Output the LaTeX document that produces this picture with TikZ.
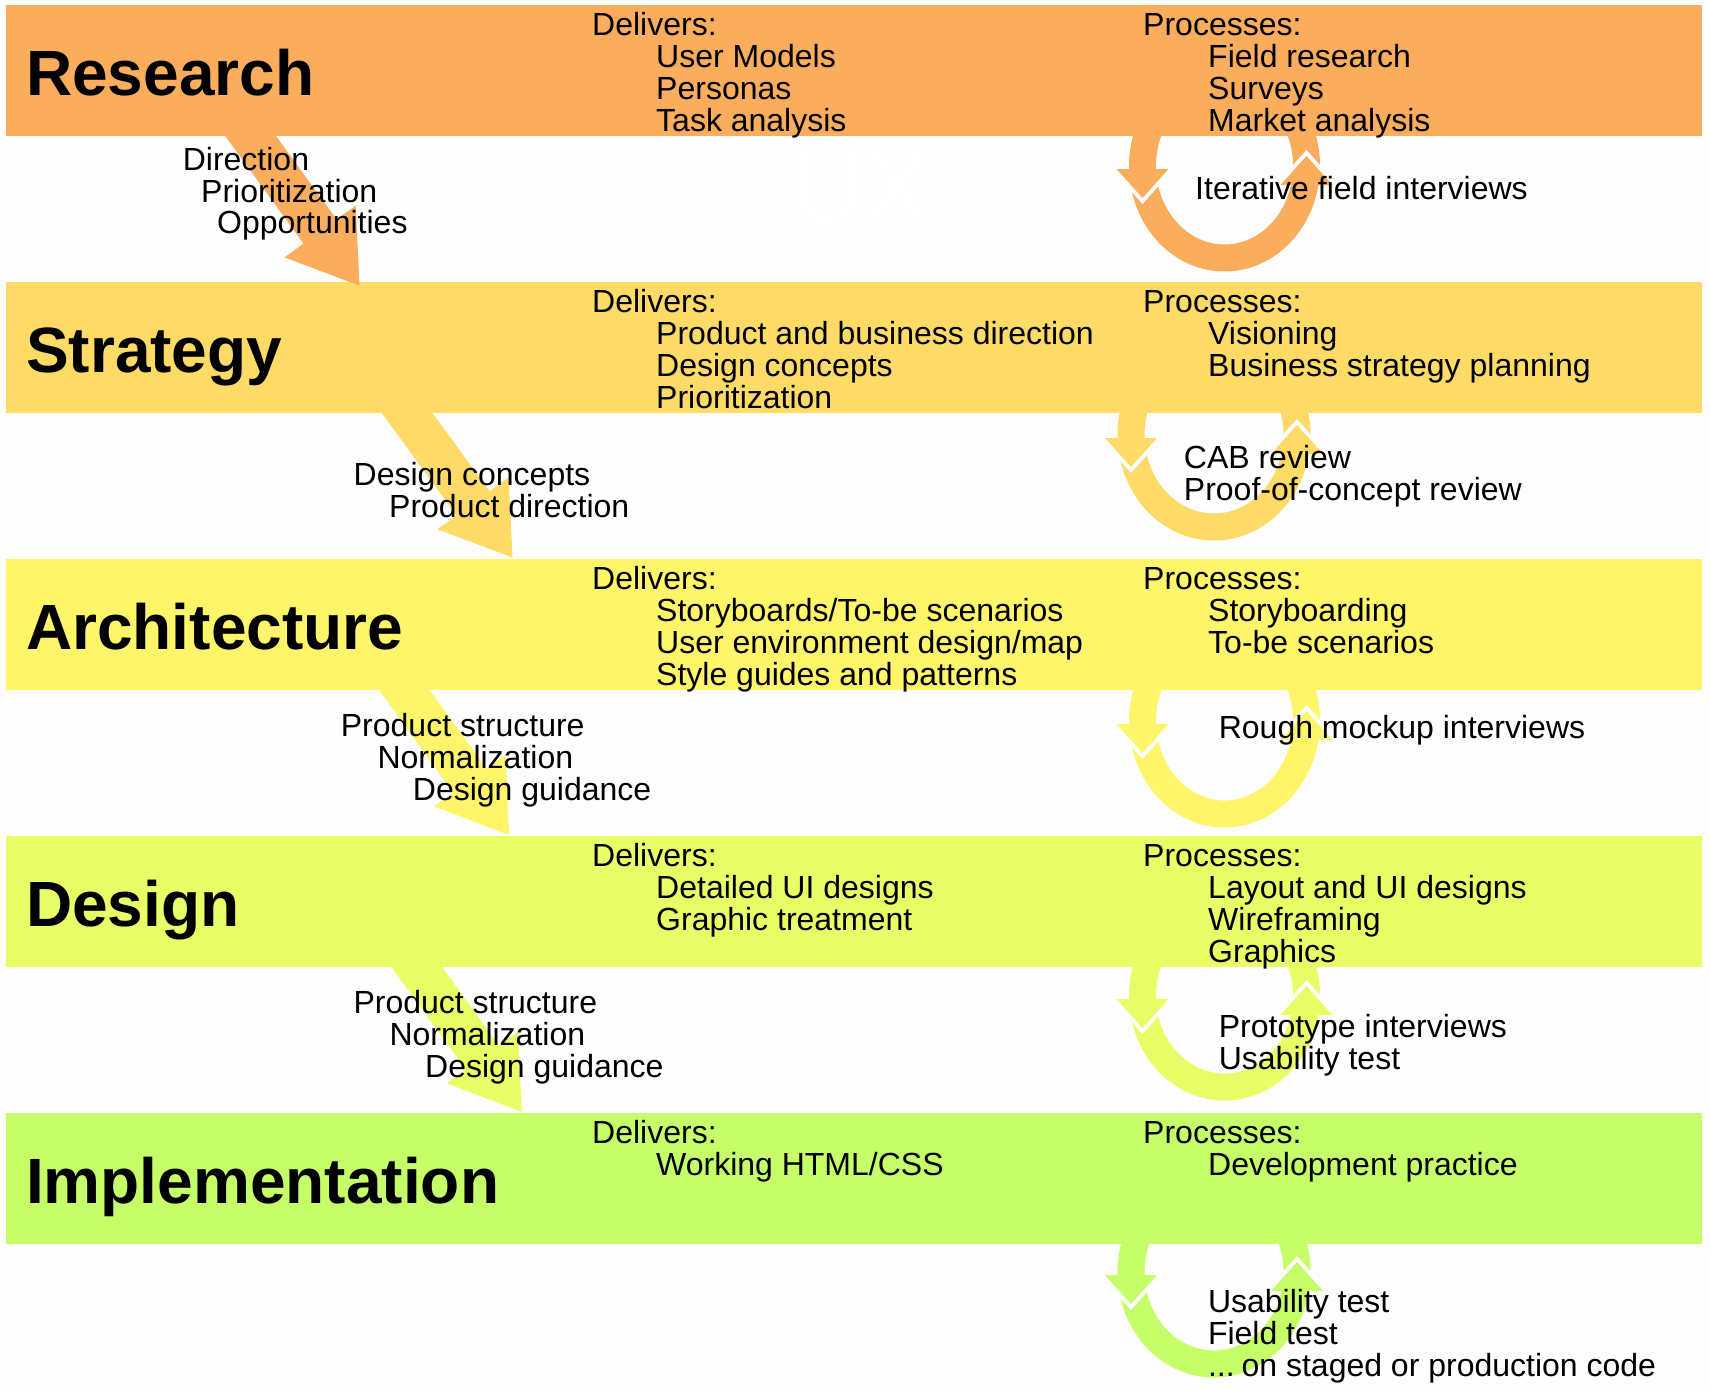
\documentclass[tikz,border=0pt]{standalone}
\usepackage{fontspec}
\setmainfont{Liberation Sans}
\usetikzlibrary{calc}

\definecolor{pagebg}{RGB}{254,254,254}
\definecolor{rescol}{RGB}{251,173,94}
\definecolor{strcol}{RGB}{254,218,102}
\definecolor{arccol}{RGB}{255,245,106}
\definecolor{descol}{RGB}{233,254,102}
\definecolor{impcol}{RGB}{197,254,104}

\newcommand\txtsize{\fontsize{32}{32}\selectfont}

% lines of text, one node per line: name prefix, x, first baseline, list
\newcommand\textlines[4]{%
  \foreach \lineitem [count=\k] in {#4}{%
    \node[txt] (#1-\k) at (#2,{#3+32*(\k-1)}) {\lineitem};
  }%
}

% broad arrow between two stages: uses coordinates (#1-s) and (#1-t)
\newcommand\flowarrow[2]{%
  \coordinate (#1-b) at ($(#1-t)!67pt!(#1-s)$);
  \fill[#2] ($(#1-s)!20.5pt!90:(#1-t)$) -- ($(#1-b)!20.5pt!90:(#1-t)$)
    -- ($(#1-b)!44pt!90:(#1-t)$) -- (#1-t) -- ($(#1-b)!44pt!-90:(#1-t)$)
    -- ($(#1-b)!20.5pt!-90:(#1-t)$) -- ($(#1-s)!20.5pt!-90:(#1-t)$) -- cycle;
}

% iteration ring under a stage: name, cx, cy, rx, ry, colour
\newcommand\iterloop[6]{%
  \coordinate (#1) at (#2,#3);
  \draw[#6, line width=27pt] ({#2+#4*cos(240)},{#3+#5*sin(240)})
    arc[start angle=240, end angle=-60, x radius=#4, y radius=#5];
  % head pointing down on the left side
  \coordinate (#1-lt) at ({#2-#4},{#3+32});
  \coordinate (#1-la) at ({#2-#4-26},{#3+3});
  \coordinate (#1-lb) at ({#2-#4+26},{#3+3});
  \draw[white, line width=8pt] (#1-la) -- (#1-lt) -- (#1-lb);
  \fill[#6] (#1-la) -- (#1-lt) -- (#1-lb) -- cycle;
  % head pointing up on the right side
  \coordinate (#1-rt) at ({#2+#4},{#3-10});
  \coordinate (#1-ra) at ({#2+#4-26},{#3+19});
  \coordinate (#1-rb) at ({#2+#4+26},{#3+19});
  \draw[white, line width=8pt] (#1-ra) -- (#1-rt) -- (#1-rb);
  \fill[#6] (#1-ra) -- (#1-rt) -- (#1-rb) -- cycle;
}

\begin{document}
\begin{tikzpicture}[x=1pt,y=-1pt,
  band/.style={fill=#1, draw=none, minimum width=1696pt, minimum height=131pt,
    anchor=north west, inner sep=0pt, outer sep=0pt},
  title/.style={anchor=base west, inner sep=0pt,
    font=\bfseries\fontsize{64}{64}\selectfont},
  txt/.style={anchor=base west, inner sep=0pt, font=\txtsize},
]
\fill[pagebg] (0,0) rectangle (1710,1390);
\useasboundingbox (0,0) rectangle (1710,1390);

% stage bands
\node[band=rescol] (research) at (6,5) {};
\node[band=strcol] (strategy) at (6,282) {};
\node[band=arccol] (architecture) at (6,559) {};
\node[band=descol] (design) at (6,836) {};
\node[band=impcol] (implementation) at (6,1113) {};

% hand-over arrows
\coordinate (a1-s) at (228.8,106);  \coordinate (a1-t) at (359.5,285.7);
\coordinate (a2-s) at (385.3,383);  \coordinate (a2-t) at (512.5,557.5);
\coordinate (a3-s) at (382.8,660);  \coordinate (a3-t) at (509,835);
\coordinate (a4-s) at (395,937);    \coordinate (a4-t) at (521.7,1111.7);
\flowarrow{a1}{rescol}
\flowarrow{a2}{strcol}
\flowarrow{a3}{arccol}
\flowarrow{a4}{descol}

% iteration rings
\iterloop{l1}{1224.5}{166}{82}{92}{rescol}
\iterloop{l2}{1214}{435}{83}{92}{strcol}
\iterloop{l3}{1224.5}{721}{82}{93}{arccol}
\iterloop{l4}{1224.5}{996}{82}{91}{descol}
\iterloop{l5}{1214}{1272}{83}{92}{impcol}

\node[anchor=base west, inner sep=0pt, text=white,
  font=\fontsize{100}{100}\selectfont] (ux) at (792,221.7) {UX};

% stage titles
\node[title] (t1) at (26,95) {Research};
\node[title] (t2) at (26,372) {Strategy};
\node[title] (t3) at (26,649) {Architecture};
\node[title] (t4) at (26,926) {Design};
\node[title] (t5) at (26,1203) {Implementation};

% deliverables and processes
\node[txt] (d1) at (592,35) {Delivers:};
\textlines{d1i}{656}{67}{User Models,Personas,Task analysis}
\node[txt] (p1) at (1143,35) {Processes:};
\textlines{p1i}{1208}{67}{Field research,Surveys,Market analysis}

\node[txt] (d2) at (592,312) {Delivers:};
\textlines{d2i}{656}{344}{Product and business direction,Design concepts,Prioritization}
\node[txt] (p2) at (1143,312) {Processes:};
\textlines{p2i}{1208}{344}{Visioning,Business strategy planning}

\node[txt] (d3) at (592,589) {Delivers:};
\textlines{d3i}{656}{621}{Storyboards/To-be scenarios,User environment design/map,Style guides and patterns}
\node[txt] (p3) at (1143,589) {Processes:};
\textlines{p3i}{1208}{621}{Storyboarding,To-be scenarios}

\node[txt] (d4) at (592,866) {Delivers:};
\textlines{d4i}{656}{898}{Detailed UI designs,Graphic treatment}
\node[txt] (p4) at (1143,866) {Processes:};
\textlines{p4i}{1208}{898}{Layout and UI designs,Wireframing,Graphics}

\node[txt] (d5) at (592,1143) {Delivers:};
\textlines{d5i}{656}{1175}{Working HTML/CSS}
\node[txt] (p5) at (1143,1143) {Processes:};
\textlines{p5i}{1208}{1175}{Development practice}

% arrow labels
\node[txt] (a1-l1) at (182.6,170.3) {Direction};
\node[txt] (a1-l2) at (201,202) {Prioritization};
\node[txt] (a1-l3) at (217,233.5) {Opportunities};

\node[txt] (a2-l1) at (353.5,485) {Design concepts};
\node[txt] (a2-l2) at (389,517) {Product direction};

\node[txt] (a3-l1) at (340.7,736.7) {Product structure};
\node[txt] (a3-l2) at (377.3,768.7) {Normalization};
\node[txt] (a3-l3) at (412.7,800.7) {Design guidance};

\node[txt] (a4-l1) at (353.3,1013.3) {Product structure};
\node[txt] (a4-l2) at (389.3,1045.3) {Normalization};
\node[txt] (a4-l3) at (425,1077.3) {Design guidance};

% ring labels
\textlines{l1t}{1195}{199.3}{Iterative field interviews}
\textlines{l2t}{1183.7}{468.3}{CAB review,Proof-of-concept review}
\textlines{l3t}{1218.6}{738.3}{Rough mockup interviews}
\textlines{l4t}{1218.6}{1037.3}{Prototype interviews,Usability test}
\node[txt] (l5t-1) at (1207.8,1312.7) {Usability test};
\node[txt] (l5t-2) at (1207.8,1344.7) {Field test};
\node[txt] (l5t-3) at (1207.8,1376.7) {...\kern-2pt\ on staged or production code};
\end{tikzpicture}
\end{document}
